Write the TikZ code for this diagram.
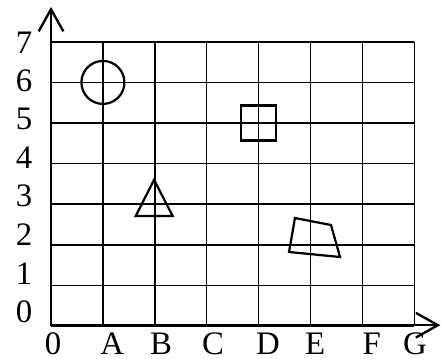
\documentclass[tikz,border=0pt]{standalone}
\usepackage{fontspec}
\setmainfont{Liberation Serif}
\usetikzlibrary{positioning,arrows.meta}

\begin{document}
\begin{tikzpicture}[
      x=1.557cm,y=1.218cm,
      gridline/.style={draw,line width=1.3pt},
      axis/.style={line width=1.6pt,-{Straight Barb[length=0.66cm,width=0.74cm,line width=2pt]}},
      figure/.style={draw,line width=1.9pt},
      lab/.style={font=\fontsize{28}{30}\selectfont,inner sep=0pt},
    ]
    \useasboundingbox (-0.983,-0.788) rectangle (7.514,8.03);
    % grid
    \foreach \i in {0,...,7} {
      \draw[gridline] (\i,0) -- (\i,7);
      \draw[gridline] (0,\i) -- (7,\i);
    }
    % axes
    \coordinate (origin) at (0,0);
    \coordinate (xstart) at (0,0.02);
    \coordinate (ytip) at (0,7.86);
    \coordinate (xtip) at (7.5,0.02);
    \draw[axis] (origin) -- (ytip);
    \draw[axis] (xstart) -- (xtip);
    % labels
    \foreach \n in {0,...,7}
      \node[lab] (y\n) at (-0.52,0.352+0.948*\n) {\n};
    \foreach \t/\xx in {0/0.04,A/1.18,B/2.12,C/3.12,D/4.18,E/5.09,F/6.18,G/7.01}
      \node[lab] (x\t) at (\xx,-0.44) {\t};
    % figures
    \node[figure,circle,minimum size=1.29cm,inner sep=0pt] (circ) at (1,6) {};
    \node[figure,rectangle,minimum size=1.05cm,inner sep=0pt] (sq) at (4,5) {};
    \draw[figure] (1.985,3.60) -- (2.345,2.709) -- (1.632,2.709) -- cycle;
    \draw[figure] (4.70,2.66) -- (5.395,2.488) -- (5.568,1.70) -- (4.586,1.823) -- cycle;
  \end{tikzpicture}
\end{document}
